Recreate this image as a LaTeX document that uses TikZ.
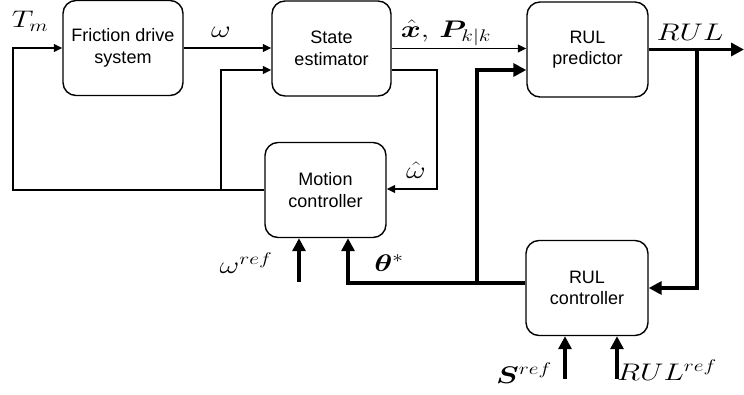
\RequirePackage{fix-cm}
\documentclass[tikz,border=0pt]{standalone}
\usepackage{graphicx}
\usepackage{bm}
\usepackage{fontspec}
\setsansfont{Liberation Sans}
\usetikzlibrary{arrows.meta}
\newcommand{\wlbl}[1]{\scalebox{1.27}[1]{$#1$}}
\begin{document}
\begin{tikzpicture}[x=1pt,y=-1pt,
  blk/.style={draw, rounded corners=13pt, line width=1.4pt, minimum width=120pt, minimum height=95pt,
    align=center, font=\sffamily\fontsize{18}{21.5}\selectfont, inner sep=0pt},
  thinarr/.style={line width=1.4pt, -{Triangle[length=8.5pt,width=8pt]}},
  thickarr/.style={line width=3.8pt, -{Triangle[length=13pt,width=13pt]}},
  lbl/.style={font=\fontsize{24}{28}\selectfont, inner sep=0pt}]
\useasboundingbox (0,0) rectangle (744,394);
% blocks
\node[blk] (fds) at (123,48) {Friction drive\\system};
\node[blk, minimum width=119pt] (se) at (331.5,48.5) {State\\estimator};
\node[blk, minimum width=121pt] (rp) at (587.5,49.5) {RUL\\predictor};
\node[blk, minimum width=121pt] (mc) at (325.5,190) {Motion\\controller};
\node[blk, minimum width=122pt] (rc) at (587,288) {RUL\\controller};
% helper coordinates
\coordinate (tmc) at (13,190);
\coordinate (b1) at (221,190);
\coordinate (c2) at (437,70);
\coordinate (out) at (744,49.5);
\coordinate (b2) at (697,49.5);
\coordinate (t1) at (348,283);
\coordinate (b3) at (477,283);
\coordinate (wr) at (299,282);
\coordinate (sr) at (565,379);
\coordinate (rr) at (617,379);
% thin connectors
\draw[thinarr] (fds.east) -- (se.west |- fds.east);
\draw[thinarr] (mc.west |- tmc) -- (tmc) |- (fds.west);
\draw[thinarr] (b1) |- (se.west |- c2);
\draw[thinarr] (se.east) -- (rp.west |- se.east);
\draw[thinarr] (se.east |- c2) -- (c2) |- (mc.east |- 0,189);
% thick connectors
\draw[thickarr] (rp.east) -- (out);
\draw[thickarr] (b2) |- (rc.east);
\draw[thickarr] (rc.west |- t1) -- (t1) -- (mc.south -| t1);
\draw[thickarr] (b3) |- (rp.west |- c2);
\draw[thickarr] (wr) -- (mc.south -| wr);
\draw[thickarr] (sr) -- (rc.south -| sr);
\draw[thickarr] (rr) -- (rc.south -| rr);
% labels
\node[lbl] (lTm) at (30,21) {\wlbl{T_m}};
\node[lbl] (lw) at (221,32) {\wlbl{\omega}};
\node[lbl] (lx) at (446,33) {\wlbl{\hat{\bm{x}},\,\bm{P}_{k|k}}};
\node[lbl] (lrul) at (690,32) {\wlbl{RUL}};
\node[lbl] (lwh) at (416,170) {\wlbl{\hat{\omega}}};
\node[lbl] (lwr) at (246,263) {\wlbl{\omega^{ref}}};
\node[lbl] (lth) at (389,263) {\wlbl{\bm{\theta}^{*}}};
\node[lbl] (lsr) at (524,373) {\wlbl{\bm{S}^{ref}}};
\node[lbl] (lrr) at (667,370) {\wlbl{RUL^{ref}}};
\end{tikzpicture}
\end{document}
